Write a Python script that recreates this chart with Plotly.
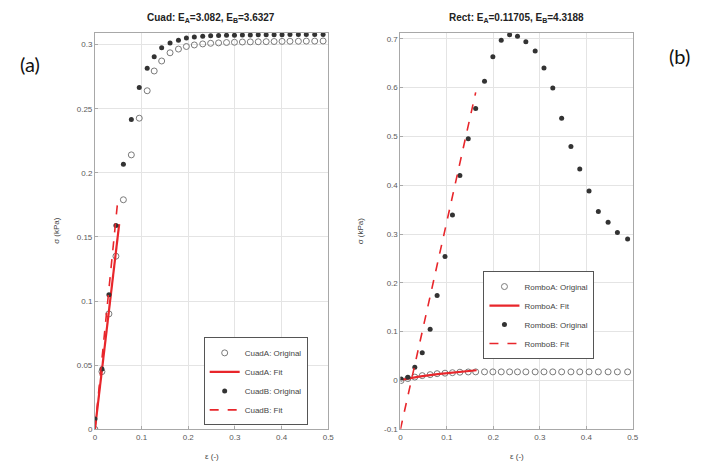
import plotly.graph_objects as go

# ---------------- data: left panel (Cuad) ----------------
cuad_x = [0, 0.015, 0.030, 0.045, 0.061, 0.078, 0.095, 0.112, 0.127, 0.143,
          0.161, 0.179, 0.196, 0.213, 0.231, 0.248, 0.265, 0.282, 0.299, 0.316,
          0.333, 0.350, 0.367, 0.384, 0.401, 0.418, 0.436, 0.453, 0.471, 0.489]
cuadA_y = [0.000, 0.045, 0.090, 0.135, 0.179, 0.214, 0.2426, 0.264, 0.2794, 0.2872,
           0.2936, 0.2965, 0.2985, 0.2997, 0.3005, 0.3010, 0.3013, 0.3016, 0.3018, 0.3020,
           0.3021, 0.3022, 0.3023, 0.3024, 0.3025, 0.3026, 0.3026, 0.3027, 0.3027, 0.3028]
cuadB_y = [0.008, 0.047, 0.105, 0.159, 0.2067, 0.2415, 0.2666, 0.2815, 0.2906, 0.2975,
           0.3013, 0.3034, 0.3052, 0.3060, 0.3065, 0.3068, 0.3070, 0.3072, 0.3073, 0.3074,
           0.3075, 0.3076, 0.3076, 0.3077, 0.3077, 0.3078, 0.3078, 0.3078, 0.3079, 0.3079]
cuadA_fit_x = [0.0, 0.052]
cuadA_fit_y = [0.0, 0.160]
cuadB_fit_x = [0.0, 0.048]
cuadB_fit_y = [0.0, 0.175]

# ---------------- data: right panel (Rect / Rombo) ----------------
rombo_x = [0.0015, 0.016, 0.031, 0.047, 0.064, 0.079, 0.096, 0.112, 0.128, 0.146,
           0.162, 0.181, 0.199, 0.217, 0.235, 0.252, 0.270, 0.290, 0.309, 0.328,
           0.347, 0.367, 0.386, 0.406, 0.426, 0.447, 0.467, 0.489]
romboA_y = [0.000, 0.004, 0.007, 0.010, 0.012, 0.014, 0.015, 0.016, 0.017, 0.0175,
            0.0177, 0.0177, 0.0177, 0.0177, 0.0177, 0.0177, 0.0177, 0.0177, 0.0177, 0.0177,
            0.0177, 0.0177, 0.0177, 0.0177, 0.0177, 0.0177, 0.0177, 0.0177]
romboB_y = [0.003, 0.0065, 0.027, 0.057, 0.105, 0.174, 0.254, 0.339, 0.420, 0.495,
            0.557, 0.613, 0.663, 0.697, 0.708, 0.705, 0.694, 0.675, 0.640, 0.599,
            0.537, 0.479, 0.433, 0.388, 0.346, 0.324, 0.303, 0.290]
romboA_fit_x = [0.0, 0.04, 0.08, 0.12, 0.164]
romboA_fit_y = [0.001, 0.008, 0.013, 0.017, 0.021]
romboB_fit_x = [0.0, 0.162]
romboB_fit_y = [-0.1, 0.59]

left_title = "Cuad: E<sub>A</sub>=3.082, E<sub>B</sub>=3.6327"
right_title = "Rect: E<sub>A</sub>=0.11705, E<sub>B</sub>=4.3188"
x_ticks = [0, 0.1, 0.2, 0.3, 0.4, 0.5]
x_ticklabels = ["0", "0.1", "0.2", "0.3", "0.4", "0.5"]
left_yticks = [0, 0.05, 0.1, 0.15, 0.2, 0.25, 0.3]
left_yticklabels = ["0", "0.05", "0.1", "0.15", "0.2", "0.25", "0.3"]
right_yticks = [-0.1, 0, 0.1, 0.2, 0.3, 0.4, 0.5, 0.6, 0.7]
right_yticklabels = ["-0.1", "0", "0.1", "0.2", "0.3", "0.4", "0.5", "0.6", "0.7"]

RED = "#e8262b"
OPEN = "#7a7a7a"
FILLED = "#333333"

fig = go.Figure()

def add_set(xo, ya, yb, fxa, fya, fxb, fyb, name, xa, ya_ax, legend):
    fig.add_trace(go.Scatter(x=xo, y=ya, mode="markers", name=f"{name}A: Original",
                             marker=dict(symbol="circle-open", size=6, color=OPEN, line=dict(width=1)),
                             xaxis=xa, yaxis=ya_ax, legend=legend))
    fig.add_trace(go.Scatter(x=fxa, y=fya, mode="lines", name=f"{name}A: Fit",
                             line=dict(color=RED, width=2.2),
                             xaxis=xa, yaxis=ya_ax, legend=legend))
    fig.add_trace(go.Scatter(x=xo, y=yb, mode="markers", name=f"{name}B: Original",
                             marker=dict(symbol="circle", size=5, color=FILLED),
                             xaxis=xa, yaxis=ya_ax, legend=legend))
    fig.add_trace(go.Scatter(x=fxb, y=fyb, mode="lines", name=f"{name}B: Fit",
                             line=dict(color=RED, width=1.6, dash="dash"),
                             xaxis=xa, yaxis=ya_ax, legend=legend))

add_set(cuad_x, cuadA_y, cuadB_y, cuadA_fit_x, cuadA_fit_y, cuadB_fit_x, cuadB_fit_y,
        "Cuad", "x", "y", "legend")
add_set(rombo_x, romboA_y, romboB_y, romboA_fit_x, romboA_fit_y, romboB_fit_x, romboB_fit_y,
        "Rombo", "x2", "y2", "legend2")

axis_common = dict(showgrid=True, gridcolor="#e4e4e4", gridwidth=1, zeroline=False,
                   showline=True, mirror=True, linecolor="#a8a8a8", linewidth=1,
                   ticks="inside", ticklen=3, tickcolor="#a8a8a8",
                   tickfont=dict(family="Liberation Sans, Arial", size=8, color="#5a5a5a"))

H = 465.0
W = 702.0
fig.update_layout(
    width=702, height=465, margin=dict(l=0, r=0, t=0, b=0),
    paper_bgcolor="white", plot_bgcolor="white", showlegend=True,
    xaxis=dict(domain=[94 / W, 330 / W], range=[0, 0.5], tickvals=x_ticks,
               ticktext=x_ticklabels, anchor="y", **axis_common),
    yaxis=dict(domain=[1 - 434 / H, 1 - 33 / H], range=[0, 0.3093], tickvals=left_yticks,
               ticktext=left_yticklabels, anchor="x", **axis_common),
    xaxis2=dict(domain=[403 / W, 638 / W], range=[0, 0.5], tickvals=x_ticks,
                ticktext=x_ticklabels, anchor="y2", **axis_common),
    yaxis2=dict(domain=[1 - 434 / H, 1 - 33 / H], range=[-0.1, 0.7124], tickvals=right_yticks,
                ticktext=right_yticklabels, anchor="x2", **axis_common),
    legend=dict(x=204 / W, y=1 - 430 / H, xanchor="left", yanchor="bottom",
                bgcolor="white", bordercolor="#555555", borderwidth=1,
                font=dict(family="Liberation Sans, Arial", size=8, color="#444"),
                tracegroupgap=0, itemwidth=30),
    legend2=dict(x=487 / W, y=1 - 274 / H, xanchor="left", yanchor="top",
                 bgcolor="white", bordercolor="#555555", borderwidth=1,
                 font=dict(family="Liberation Sans, Arial", size=8, color="#444"),
                 tracegroupgap=0, itemwidth=30),
)

ann_font = dict(family="Liberation Sans, Arial", size=10, color="#222")
lab_font = dict(family="Liberation Sans, Arial", size=8, color="#444")
annotations = [
    dict(text="<b>" + left_title + "</b>", x=211 / W, y=1 - 18 / H, xref="paper", yref="paper",
         showarrow=False, font=ann_font, xanchor="center", yanchor="middle"),
    dict(text="<b>" + right_title + "</b>", x=520 / W, y=1 - 18 / H, xref="paper", yref="paper",
         showarrow=False, font=ann_font, xanchor="center", yanchor="middle"),
    dict(text="σ (kPa)", x=55 / W, y=1 - 233 / H, xref="paper", yref="paper", textangle=-90,
         showarrow=False, font=lab_font, xanchor="center", yanchor="middle"),
    dict(text="σ (kPa)", x=363 / W, y=1 - 233 / H, xref="paper", yref="paper", textangle=-90,
         showarrow=False, font=lab_font, xanchor="center", yanchor="middle"),
    dict(text="ε (-)", x=212 / W, y=1 - 461 / H, xref="paper", yref="paper",
         showarrow=False, font=lab_font, xanchor="center", yanchor="middle"),
    dict(text="ε (-)", x=521 / W, y=1 - 461 / H, xref="paper", yref="paper",
         showarrow=False, font=lab_font, xanchor="center", yanchor="middle"),
    dict(text="(a)", x=28 / W, y=1 - 65 / H, xref="paper", yref="paper",
         showarrow=False, font=dict(family="Lato, Open Sans", size=20, color="#111"),
         xanchor="center", yanchor="middle"),
    dict(text="(b)", x=685 / W, y=1 - 57 / H, xref="paper", yref="paper",
         showarrow=False, font=dict(family="Lato, Open Sans", size=20, color="#111"),
         xanchor="center", yanchor="middle"),
]
fig.update_layout(annotations=annotations)

fig.write_html("out.html")
